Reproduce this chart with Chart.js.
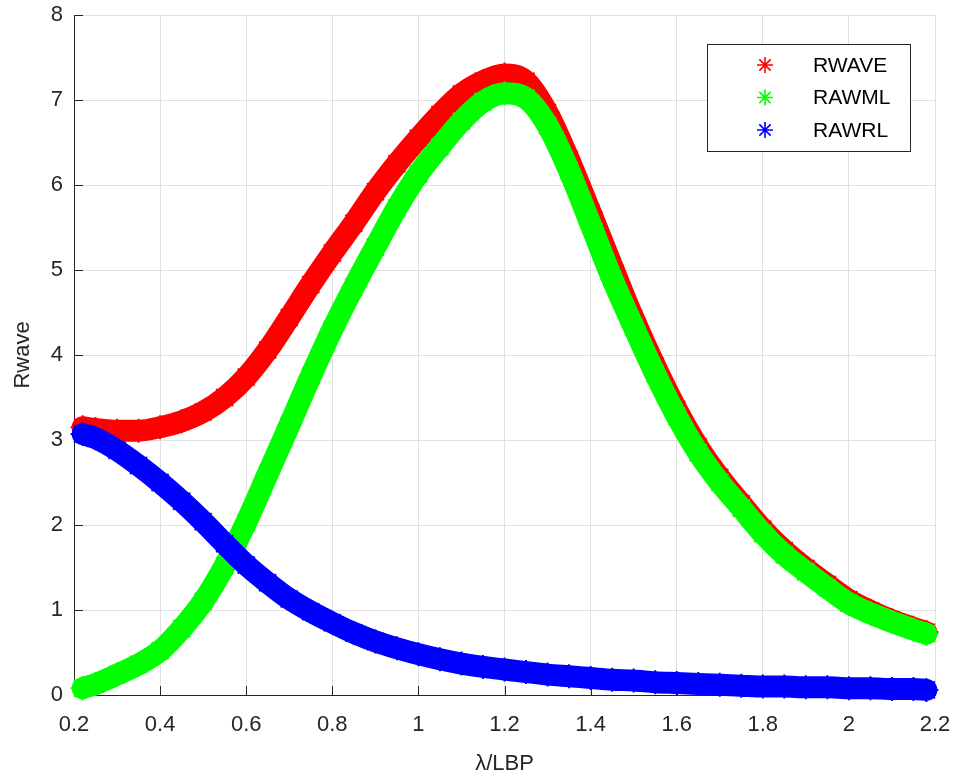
<!DOCTYPE html>
<html>
<head>
<meta charset="utf-8">
<title>Rwave</title>
<script src="https://cdn.jsdelivr.net/npm/chart.js@4.4.0/dist/chart.umd.min.js"></script>
<style>
  html, body { margin: 0; padding: 0; background: #fff; }
  #wrap { width: 953px; height: 777px; }
</style>
</head>
<body>
<div id="wrap"><canvas id="myChart" width="953" height="777"></canvas></div>
<script>
// λ/LBP sample positions shared by the three curves
const lambdaLbp = [0.22, 0.25, 0.30, 0.35, 0.40, 0.45, 0.50, 0.55, 0.60, 0.65,
                   0.70, 0.75, 0.80, 0.85, 0.90, 0.95, 1.00, 1.05, 1.10, 1.15,
                   1.20, 1.25, 1.30, 1.35, 1.40, 1.45, 1.50, 1.55, 1.60, 1.65,
                   1.70, 1.75, 1.80, 1.85, 1.90, 1.95, 2.00, 2.05, 2.10, 2.15, 2.18];

const rwave = [3.15, 3.13, 3.11, 3.11, 3.15, 3.22, 3.33, 3.50, 3.74, 4.06,
               4.44, 4.83, 5.20, 5.55, 5.92, 6.25, 6.55, 6.83, 7.07, 7.22,
               7.30, 7.22, 6.85, 6.30, 5.68, 5.05, 4.43, 3.87, 3.36, 2.92,
               2.56, 2.25, 1.95, 1.70, 1.49, 1.30, 1.12, 0.99, 0.88, 0.79, 0.74];

const rawml = [0.08, 0.13, 0.24, 0.36, 0.52, 0.78, 1.10, 1.52, 2.03, 2.60,
               3.17, 3.75, 4.30, 4.80, 5.27, 5.73, 6.13, 6.45, 6.75, 6.98,
               7.08, 7.02, 6.70, 6.17, 5.54, 4.90, 4.33, 3.78, 3.28, 2.85,
               2.50, 2.20, 1.90, 1.65, 1.45, 1.26, 1.08, 0.96, 0.86, 0.77, 0.72];

const rawrl = [3.07, 3.02, 2.88, 2.70, 2.50, 2.28, 2.04, 1.78, 1.53, 1.32,
               1.13, 0.98, 0.85, 0.73, 0.63, 0.55, 0.48, 0.42, 0.37, 0.33,
               0.30, 0.27, 0.24, 0.22, 0.20, 0.18, 0.17, 0.15, 0.14, 0.13,
               0.12, 0.11, 0.10, 0.10, 0.09, 0.09, 0.08, 0.08, 0.07, 0.07, 0.06];

const xTicks = [0.2, 0.4, 0.6, 0.8, 1.0, 1.2, 1.4, 1.6, 1.8, 2.0, 2.2];
const yTicks = [0, 1, 2, 3, 4, 5, 6, 7, 8];

const seriesNames = ['RWAVE', 'RAWML', 'RAWRL'];
const seriesColors = ['#ff0000', '#00ff00', '#0000ff'];

const axisColor = '#262626';
const gridColor = '#e0e0e0';
const fontFamily = '"Liberation Sans", Arial, Helvetica, sans-serif';

function toPoints(values) {
    return lambdaLbp.map((x, i) => ({ x: x, y: values[i] }));
}

// thick band of asterisk markers
function makeDataset(index, values, order) {
    const color = seriesColors[index];
    return {
        label: seriesNames[index],
        data: toPoints(values),
        borderColor: color,
        backgroundColor: color,
        borderWidth: 22,
        borderCapStyle: 'round',
        borderJoinStyle: 'round',
        cubicInterpolationMode: 'monotone',
        pointStyle: 'star',
        pointRadius: 12,
        pointBorderWidth: 2,
        pointBorderColor: color,
        pointBackgroundColor: color,
        clip: false,
        order: order
    };
}

// asterisk glyph used in the legend
function drawAsterisk(ctx, x, y, r, color) {
    const d = r * Math.SQRT1_2;
    ctx.save();
    ctx.strokeStyle = color;
    ctx.lineWidth = 1.6;
    ctx.beginPath();
    ctx.moveTo(x - r, y); ctx.lineTo(x + r, y);
    ctx.moveTo(x, y - r); ctx.lineTo(x, y + r);
    ctx.moveTo(x - d, y - d); ctx.lineTo(x + d, y + d);
    ctx.moveTo(x - d, y + d); ctx.lineTo(x + d, y - d);
    ctx.stroke();
    ctx.restore();
}

// tick marks pointing into the plot
const innerTicks = {
    id: 'innerTicks',
    beforeDatasetsDraw(chart) {
        const { ctx, chartArea, scales } = chart;
        ctx.save();
        ctx.strokeStyle = axisColor;
        ctx.lineWidth = 1;
        ctx.beginPath();
        xTicks.forEach(v => {
            const px = Math.round(scales.x.getPixelForValue(v)) + 0.5;
            ctx.moveTo(px, chartArea.bottom);
            ctx.lineTo(px, chartArea.bottom - 9);
        });
        yTicks.forEach(v => {
            const py = Math.round(scales.y.getPixelForValue(v)) + 0.5;
            ctx.moveTo(chartArea.left, py);
            ctx.lineTo(chartArea.left + 9, py);
        });
        ctx.stroke();
        ctx.restore();
    }
};

// boxed legend in the upper right corner
const boxLegend = {
    id: 'boxLegend',
    afterDraw(chart) {
        const { ctx, chartArea } = chart;
        const w = 203, h = 107;
        const left = chartArea.right - 25 - w;
        const top = chartArea.top + 29;
        ctx.save();
        ctx.fillStyle = '#ffffff';
        ctx.fillRect(left, top, w, h);
        ctx.strokeStyle = axisColor;
        ctx.lineWidth = 1;
        ctx.strokeRect(Math.round(left) + 0.5, Math.round(top) + 0.5, w, h);
        ctx.font = '21px ' + fontFamily;
        ctx.textBaseline = 'middle';
        ctx.textAlign = 'left';
        ctx.fillStyle = '#000000';
        seriesNames.forEach((name, i) => {
            const y = top + 21 + i * 32.5;
            drawAsterisk(ctx, left + 58, y, 8, seriesColors[i]);
            ctx.fillText(name, left + 106, y + 1);
        });
        ctx.restore();
    }
};

const ctx = document.getElementById('myChart').getContext('2d');

const myChart = new Chart(ctx, {
    type: 'line',
    data: {
        datasets: [
            makeDataset(0, rwave, 3),
            makeDataset(1, rawml, 2),
            makeDataset(2, rawrl, 1)
        ]
    },
    options: {
        responsive: false,
        animation: false,
        devicePixelRatio: 1,
        layout: {
            padding: { top: 15, right: 18, left: 0, bottom: 0 }
        },
        plugins: {
            legend: { display: false },
            tooltip: { enabled: false }
        },
        scales: {
            x: {
                type: 'linear',
                min: 0.2,
                max: 2.2,
                afterBuildTicks: s => { s.ticks = xTicks.map(v => ({ value: v })); },
                afterFit: s => {
                    s.height = 82;
                    s.paddingLeft = 0;
                    s.paddingRight = 0;
                },
                grid: { color: gridColor, drawTicks: false },
                border: { color: axisColor, width: 1 },
                ticks: {
                    color: axisColor,
                    font: { family: fontFamily, size: 22 },
                    padding: 17,
                    maxRotation: 0,
                    autoSkip: false,
                    callback: v => String(+v.toFixed(1))
                },
                title: {
                    display: true,
                    text: 'λ/LBP',
                    color: axisColor,
                    font: { family: fontFamily, size: 22 },
                    padding: { top: 0, bottom: 0 }
                }
            },
            y: {
                type: 'linear',
                min: 0,
                max: 8,
                afterBuildTicks: s => { s.ticks = yTicks.map(v => ({ value: v })); },
                afterFit: s => {
                    s.width = 74;
                    s.paddingTop = 0;
                    s.paddingBottom = 0;
                },
                grid: { color: gridColor, drawTicks: false },
                border: { color: axisColor, width: 1 },
                ticks: {
                    color: axisColor,
                    font: { family: fontFamily, size: 22 },
                    padding: 11,
                    autoSkip: false
                },
                title: {
                    display: true,
                    text: 'Rwave',
                    color: axisColor,
                    font: { family: fontFamily, size: 22 },
                    padding: { top: 10, bottom: 0 }
                }
            }
        }
    },
    plugins: [innerTicks, boxLegend]
});
</script>
</body>
</html>
